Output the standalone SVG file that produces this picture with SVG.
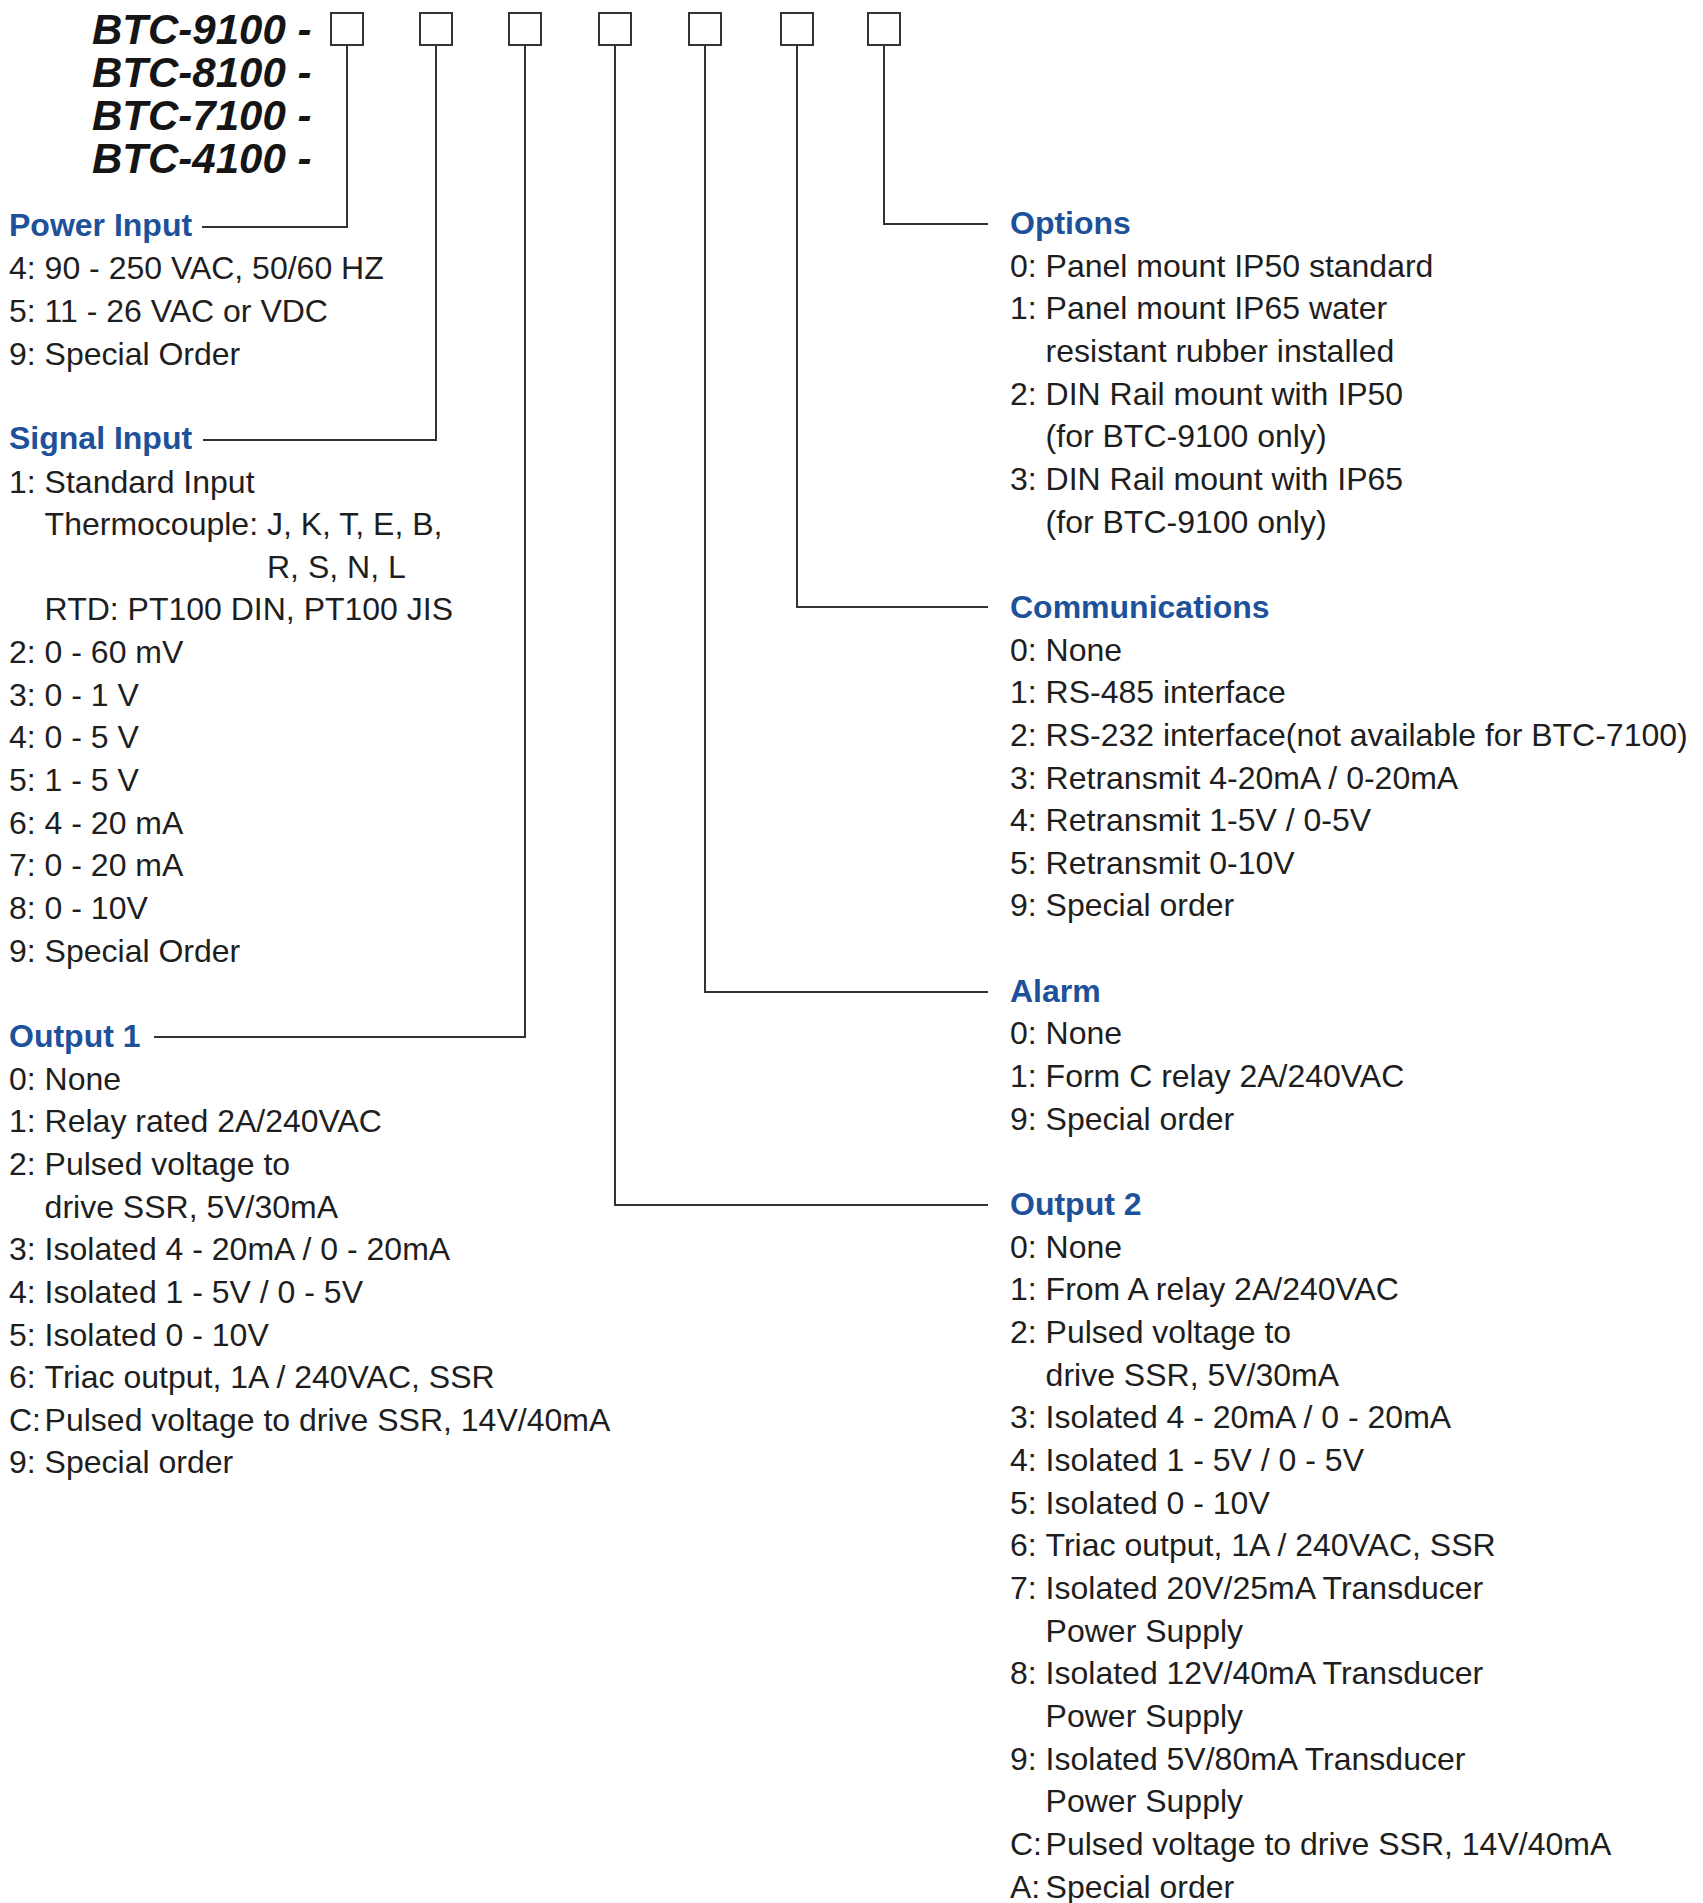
<svg xmlns="http://www.w3.org/2000/svg" width="1703" height="1903" viewBox="0 0 1703 1903">
<style>
.h{font-family:"Liberation Sans",Arial,sans-serif;font-size:42px;font-weight:bold;font-style:italic;fill:#151515}
.t{font-family:"Liberation Sans",Arial,sans-serif;font-size:32px;font-weight:bold;fill:#1d519a}
.i{font-family:"Liberation Sans",Arial,sans-serif;font-size:32px;fill:#1e1e1e}
.box{fill:#fff;stroke:#333;stroke-width:2}
.c{fill:none;stroke:#333;stroke-width:2}
</style>
<rect width="1703" height="1903" fill="#fff"/>
<g id="header">
<text class="h" x="92" y="44">BTC-9100 -</text>
<text class="h" x="92" y="87">BTC-8100 -</text>
<text class="h" x="92" y="130">BTC-7100 -</text>
<text class="h" x="92" y="173">BTC-4100 -</text>
</g>
<g id="boxes">
<rect id="box1" class="box" x="331" y="13" width="32" height="32"/>
<rect id="box2" class="box" x="420" y="13" width="32" height="32"/>
<rect id="box3" class="box" x="509" y="13" width="32" height="32"/>
<rect id="box4" class="box" x="599" y="13" width="32" height="32"/>
<rect id="box5" class="box" x="689" y="13" width="32" height="32"/>
<rect id="box6" class="box" x="781" y="13" width="32" height="32"/>
<rect id="box7" class="box" x="868" y="13" width="32" height="32"/>
</g>
<g id="connectors">
<path class="c" d="M347 45 V227 H202"/>
<path class="c" d="M436 45 V440 H203"/>
<path class="c" d="M525 45 V1037 H154"/>
<path class="c" d="M615 45 V1205 H988"/>
<path class="c" d="M705 45 V992 H988"/>
<path class="c" d="M797 45 V607 H988"/>
<path class="c" d="M884 45 V224 H988"/>
</g>
<g id="power-input">
<text class="t" x="9" y="236">Power Input</text>
<text class="i" y="279"><tspan x="9">4:</tspan><tspan x="44.6">90 - 250 VAC, 50/60 HZ</tspan></text>
<text class="i" y="322"><tspan x="9">5:</tspan><tspan x="44.6">11 - 26 VAC or VDC</tspan></text>
<text class="i" y="364.5"><tspan x="9">9:</tspan><tspan x="44.6">Special Order</tspan></text>
</g>
<g id="signal-input">
<text class="t" x="9" y="449">Signal Input</text>
<text class="i" y="492.5"><tspan x="9">1:</tspan><tspan x="44.6">Standard Input</tspan></text>
<text class="i" x="44.6" y="535">Thermocouple: J, K, T, E, B,</text>
<text class="i" x="267" y="578">R, S, N, L</text>
<text class="i" x="44.6" y="620">RTD: PT100 DIN, PT100 JIS</text>
<text class="i" y="663"><tspan x="9">2:</tspan><tspan x="44.6">0 - 60 mV</tspan></text>
<text class="i" y="705.5"><tspan x="9">3:</tspan><tspan x="44.6">0 - 1 V</tspan></text>
<text class="i" y="748"><tspan x="9">4:</tspan><tspan x="44.6">0 - 5 V</tspan></text>
<text class="i" y="791"><tspan x="9">5:</tspan><tspan x="44.6">1 - 5 V</tspan></text>
<text class="i" y="833.6"><tspan x="9">6:</tspan><tspan x="44.6">4 - 20 mA</tspan></text>
<text class="i" y="876"><tspan x="9">7:</tspan><tspan x="44.6">0 - 20 mA</tspan></text>
<text class="i" y="919"><tspan x="9">8:</tspan><tspan x="44.6">0 - 10V</tspan></text>
<text class="i" y="961.6"><tspan x="9">9:</tspan><tspan x="44.6">Special Order</tspan></text>
</g>
<g id="output-1">
<text class="t" x="9" y="1046.5">Output 1</text>
<text class="i" y="1089.5"><tspan x="9">0:</tspan><tspan x="44.6">None</tspan></text>
<text class="i" y="1132"><tspan x="9">1:</tspan><tspan x="44.6">Relay rated 2A/240VAC</tspan></text>
<text class="i" y="1175"><tspan x="9">2:</tspan><tspan x="44.6">Pulsed voltage to</tspan></text>
<text class="i" x="44.6" y="1217.5">drive SSR, 5V/30mA</text>
<text class="i" y="1260"><tspan x="9">3:</tspan><tspan x="44.6">Isolated 4 - 20mA / 0 - 20mA</tspan></text>
<text class="i" y="1303"><tspan x="9">4:</tspan><tspan x="44.6">Isolated 1 - 5V / 0 - 5V</tspan></text>
<text class="i" y="1345.6"><tspan x="9">5:</tspan><tspan x="44.6">Isolated 0 - 10V</tspan></text>
<text class="i" y="1388"><tspan x="9">6:</tspan><tspan x="44.6">Triac output, 1A / 240VAC, SSR</tspan></text>
<text class="i" y="1431"><tspan x="9">C:</tspan><tspan x="44.6">Pulsed voltage to drive SSR, 14V/40mA</tspan></text>
<text class="i" y="1473.4"><tspan x="9">9:</tspan><tspan x="44.6">Special order</tspan></text>
</g>
<g id="options">
<text class="t" x="1010" y="233.5">Options</text>
<text class="i" y="276.6"><tspan x="1010">0:</tspan><tspan x="1045.6">Panel mount IP50 standard</tspan></text>
<text class="i" y="319.3"><tspan x="1010">1:</tspan><tspan x="1045.6">Panel mount IP65 water</tspan></text>
<text class="i" x="1045.6" y="362">resistant rubber installed</text>
<text class="i" y="404.6"><tspan x="1010">2:</tspan><tspan x="1045.6">DIN Rail mount with IP50</tspan></text>
<text class="i" x="1045.6" y="447.3">(for BTC-9100 only)</text>
<text class="i" y="490"><tspan x="1010">3:</tspan><tspan x="1045.6">DIN Rail mount with IP65</tspan></text>
<text class="i" x="1045.6" y="532.6">(for BTC-9100 only)</text>
</g>
<g id="communications">
<text class="t" x="1010" y="617.5">Communications</text>
<text class="i" y="660.5"><tspan x="1010">0:</tspan><tspan x="1045.6">None</tspan></text>
<text class="i" y="703.2"><tspan x="1010">1:</tspan><tspan x="1045.6">RS-485 interface</tspan></text>
<text class="i" y="745.9"><tspan x="1010">2:</tspan><tspan x="1045.6">RS-232 interface(not available for BTC-7100)</tspan></text>
<text class="i" y="788.5"><tspan x="1010">3:</tspan><tspan x="1045.6">Retransmit 4-20mA / 0-20mA</tspan></text>
<text class="i" y="831.2"><tspan x="1010">4:</tspan><tspan x="1045.6">Retransmit 1-5V / 0-5V</tspan></text>
<text class="i" y="873.9"><tspan x="1010">5:</tspan><tspan x="1045.6">Retransmit 0-10V</tspan></text>
<text class="i" y="916.4"><tspan x="1010">9:</tspan><tspan x="1045.6">Special order</tspan></text>
</g>
<g id="alarm">
<text class="t" x="1010" y="1001.5">Alarm</text>
<text class="i" y="1044.4"><tspan x="1010">0:</tspan><tspan x="1045.6">None</tspan></text>
<text class="i" y="1087"><tspan x="1010">1:</tspan><tspan x="1045.6">Form C relay 2A/240VAC</tspan></text>
<text class="i" y="1129.7"><tspan x="1010">9:</tspan><tspan x="1045.6">Special order</tspan></text>
</g>
<g id="output-2">
<text class="t" x="1010" y="1215">Output 2</text>
<text class="i" y="1257.6"><tspan x="1010">0:</tspan><tspan x="1045.6">None</tspan></text>
<text class="i" y="1300.3"><tspan x="1010">1:</tspan><tspan x="1045.6">From A relay 2A/240VAC</tspan></text>
<text class="i" y="1343"><tspan x="1010">2:</tspan><tspan x="1045.6">Pulsed voltage to</tspan></text>
<text class="i" x="1045.6" y="1385.6">drive SSR, 5V/30mA</text>
<text class="i" y="1428.2"><tspan x="1010">3:</tspan><tspan x="1045.6">Isolated 4 - 20mA / 0 - 20mA</tspan></text>
<text class="i" y="1471"><tspan x="1010">4:</tspan><tspan x="1045.6">Isolated 1 - 5V / 0 - 5V</tspan></text>
<text class="i" y="1513.5"><tspan x="1010">5:</tspan><tspan x="1045.6">Isolated 0 - 10V</tspan></text>
<text class="i" y="1556.2"><tspan x="1010">6:</tspan><tspan x="1045.6">Triac output, 1A / 240VAC, SSR</tspan></text>
<text class="i" y="1598.9"><tspan x="1010">7:</tspan><tspan x="1045.6">Isolated 20V/25mA Transducer</tspan></text>
<text class="i" x="1045.6" y="1641.5">Power Supply</text>
<text class="i" y="1684.2"><tspan x="1010">8:</tspan><tspan x="1045.6">Isolated 12V/40mA Transducer</tspan></text>
<text class="i" x="1045.6" y="1726.9">Power Supply</text>
<text class="i" y="1769.5"><tspan x="1010">9:</tspan><tspan x="1045.6">Isolated 5V/80mA Transducer</tspan></text>
<text class="i" x="1045.6" y="1812.2">Power Supply</text>
<text class="i" y="1854.9"><tspan x="1010">C:</tspan><tspan x="1045.6">Pulsed voltage to drive SSR, 14V/40mA</tspan></text>
<text class="i" y="1897.5"><tspan x="1010">A:</tspan><tspan x="1045.6">Special order</tspan></text>
</g>
</svg>
